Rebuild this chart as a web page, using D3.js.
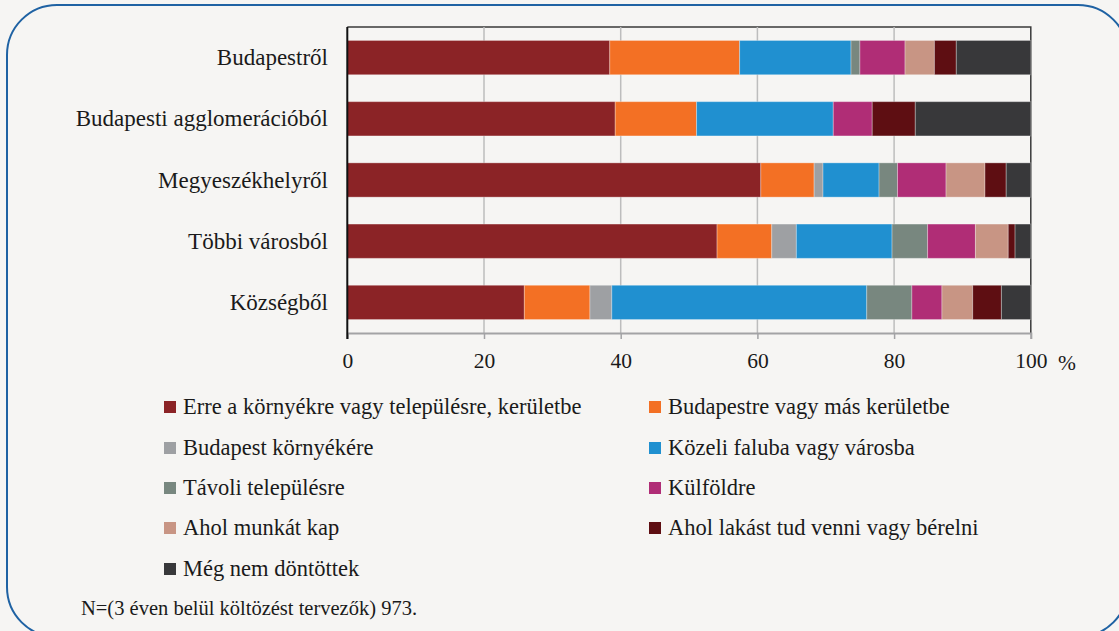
<!DOCTYPE html>
<html>
<head>
<meta charset="utf-8">
<script src="https://cdn.jsdelivr.net/npm/d3@7"></script>
<style>
  html, body { margin: 0; padding: 0; background: #f6f5f3; }
  text { font-family: "Liberation Serif", "DejaVu Serif", serif; }
</style>
</head>
<body>
<svg id="chart" width="1119" height="631"></svg>
<script>
// Origin of people planning to move (rows) and where they plan to move (stacked shares, %)
const categories = ["Budapestről", "Budapesti agglomerációból", "Megyeszékhelyről", "Többi városból", "Községből"];

const seriesNames = [
  "Erre a környékre vagy településre, kerületbe",
  "Budapestre vagy más kerületbe",
  "Budapest környékére",
  "Közeli faluba vagy városba",
  "Távoli településre",
  "Külföldre",
  "Ahol munkát kap",
  "Ahol lakást tud venni vagy bérelni",
  "Még nem döntöttek"
];

// one array per destination, values in category order
const erreKornyekre   = [38.4, 39.2, 60.5, 54.1, 25.9];
const budapestre      = [19.0, 11.9,  7.8,  8.0,  9.6];
const bpKornyekere    = [ 0.0,  0.0,  1.3,  3.6,  3.2];
const kozeliFaluba    = [16.3, 20.0,  8.2, 14.0, 37.3];
const tavoliTelepules = [ 1.3,  0.0,  2.7,  5.2,  6.6];
const kulfoldre       = [ 6.6,  5.7,  7.1,  7.0,  4.4];
const munkatKap       = [ 4.3,  0.0,  5.7,  4.8,  4.5];
const lakastVenni     = [ 3.2,  6.3,  3.1,  1.0,  4.2];
const nemDontottek    = [10.9, 16.9,  3.6,  2.3,  4.3];

const seriesValues = [erreKornyekre, budapestre, bpKornyekere, kozeliFaluba,
  tavoliTelepules, kulfoldre, munkatKap, lakastVenni, nemDontottek];

const colors = ["#8b2326", "#f37024", "#9ea0a3", "#2090d0", "#78877f",
  "#b02d76", "#c89584", "#5e0e12", "#38383a"];

const xTicks = [0, 20, 40, 60, 80, 100];
const noteText = "N=(3 éven belül költözést tervezők) 973.";

const FONT = "'Liberation Serif', 'DejaVu Serif', serif";

// rows for d3.stack
const rows = categories.map((c, i) => {
  const r = { cat: c };
  seriesNames.forEach((s, j) => { r[s] = seriesValues[j][i]; });
  return r;
});

const svg = d3.select("#chart");

// rounded frame
svg.append("rect")
  .attr("x", 7).attr("y", 5).attr("width", 1121).attr("height", 632)
  .attr("rx", 50).attr("ry", 50)
  .attr("fill", "#f6f5f3").attr("stroke", "#1f62a3").attr("stroke-width", 2);

const x = d3.scaleLinear().domain([0, 100]).range([347.3, 1030.8]);
const y = d3.scaleBand().domain(categories).range([27, 333])
  .paddingInner(0.44).paddingOuter(0.22);

// plot border (top/right)
svg.append("path")
  .attr("d", `M${x(0)},${y.range()[0]}H${x(100)}V${y.range()[1]}`)
  .attr("fill", "none").attr("stroke", "#3a3a3a").attr("stroke-width", 1.5);

// vertical gridlines
svg.append("g").selectAll("line")
  .data(xTicks.filter(t => t > 0 && t < 100))
  .join("line")
  .attr("x1", d => x(d)).attr("x2", d => x(d))
  .attr("y1", y.range()[0]).attr("y2", y.range()[1])
  .attr("stroke", "#bdbdbd").attr("stroke-width", 1.5);

// stacked bars
const stack = d3.stack().keys(seriesNames)(rows);
svg.append("g").selectAll("g")
  .data(stack)
  .join("g")
  .attr("fill", (d, i) => colors[i])
  .selectAll("rect")
  .data(d => d)
  .join("rect")
  .attr("x", d => x(d[0]))
  .attr("y", d => y(d.data.cat))
  .attr("width", d => Math.max(0, x(d[1]) - x(d[0])))
  .attr("height", y.bandwidth())
  .attr("stroke", "rgba(255,255,255,0.3)")
  .attr("stroke-width", 1);

// x axis
const xAxis = svg.append("g")
  .attr("transform", `translate(0,${y.range()[1]})`)
  .call(d3.axisBottom(x).tickValues(xTicks).tickSize(6).tickPadding(14).tickFormat(d3.format("d")));
xAxis.attr("font-family", FONT);
xAxis.select(".domain").attr("stroke", "#a3a3a5").attr("stroke-width", 2);
xAxis.selectAll(".tick line").attr("stroke", "#a3a3a5").attr("stroke-width", 1.5);
xAxis.selectAll(".tick text")
  .attr("font-family", FONT)
  .attr("font-size", 21.5).attr("fill", "#1a1a1a");

svg.append("text")
  .attr("x", 1067).attr("y", 370)
  .attr("text-anchor", "middle")
  .attr("font-family", FONT)
  .attr("font-size", 21.5).attr("fill", "#1a1a1a")
  .text("%");

// left axis line
svg.append("line")
  .attr("x1", x(0)).attr("x2", x(0))
  .attr("y1", y.range()[0]).attr("y2", y.range()[1] + 6)
  .attr("stroke", "#111").attr("stroke-width", 2);

// category labels
svg.append("g").selectAll("text")
  .data(categories)
  .join("text")
  .attr("x", 328)
  .attr("y", d => y(d) + y.bandwidth() / 2)
  .attr("dy", "0.33em")
  .attr("text-anchor", "end")
  .attr("font-family", FONT)
  .attr("font-size", 23).attr("fill", "#1a1a1a")
  .text(d => d);

// legend: two columns
const legendCols = [164, 649];
const legendRows = [407, 448, 488, 528, 569];
const legend = svg.append("g").selectAll("g")
  .data(seriesNames)
  .join("g")
  .attr("transform", (d, i) => `translate(${legendCols[i % 2]},${legendRows[Math.floor(i / 2)]})`);
legend.append("rect")
  .attr("x", 0).attr("y", -6).attr("width", 12).attr("height", 12)
  .attr("fill", (d, i) => colors[i]);
legend.append("text")
  .attr("x", 19).attr("dy", "0.33em")
  .attr("font-family", FONT)
  .attr("font-size", 22.5).attr("fill", "#1a1a1a")
  .text(d => d);

// sample note
svg.append("text")
  .attr("x", 81).attr("y", 608).attr("dy", "0.33em")
  .attr("font-family", FONT)
  .attr("font-size", 20.5).attr("fill", "#1a1a1a")
  .text(noteText);
</script>
</body>
</html>
